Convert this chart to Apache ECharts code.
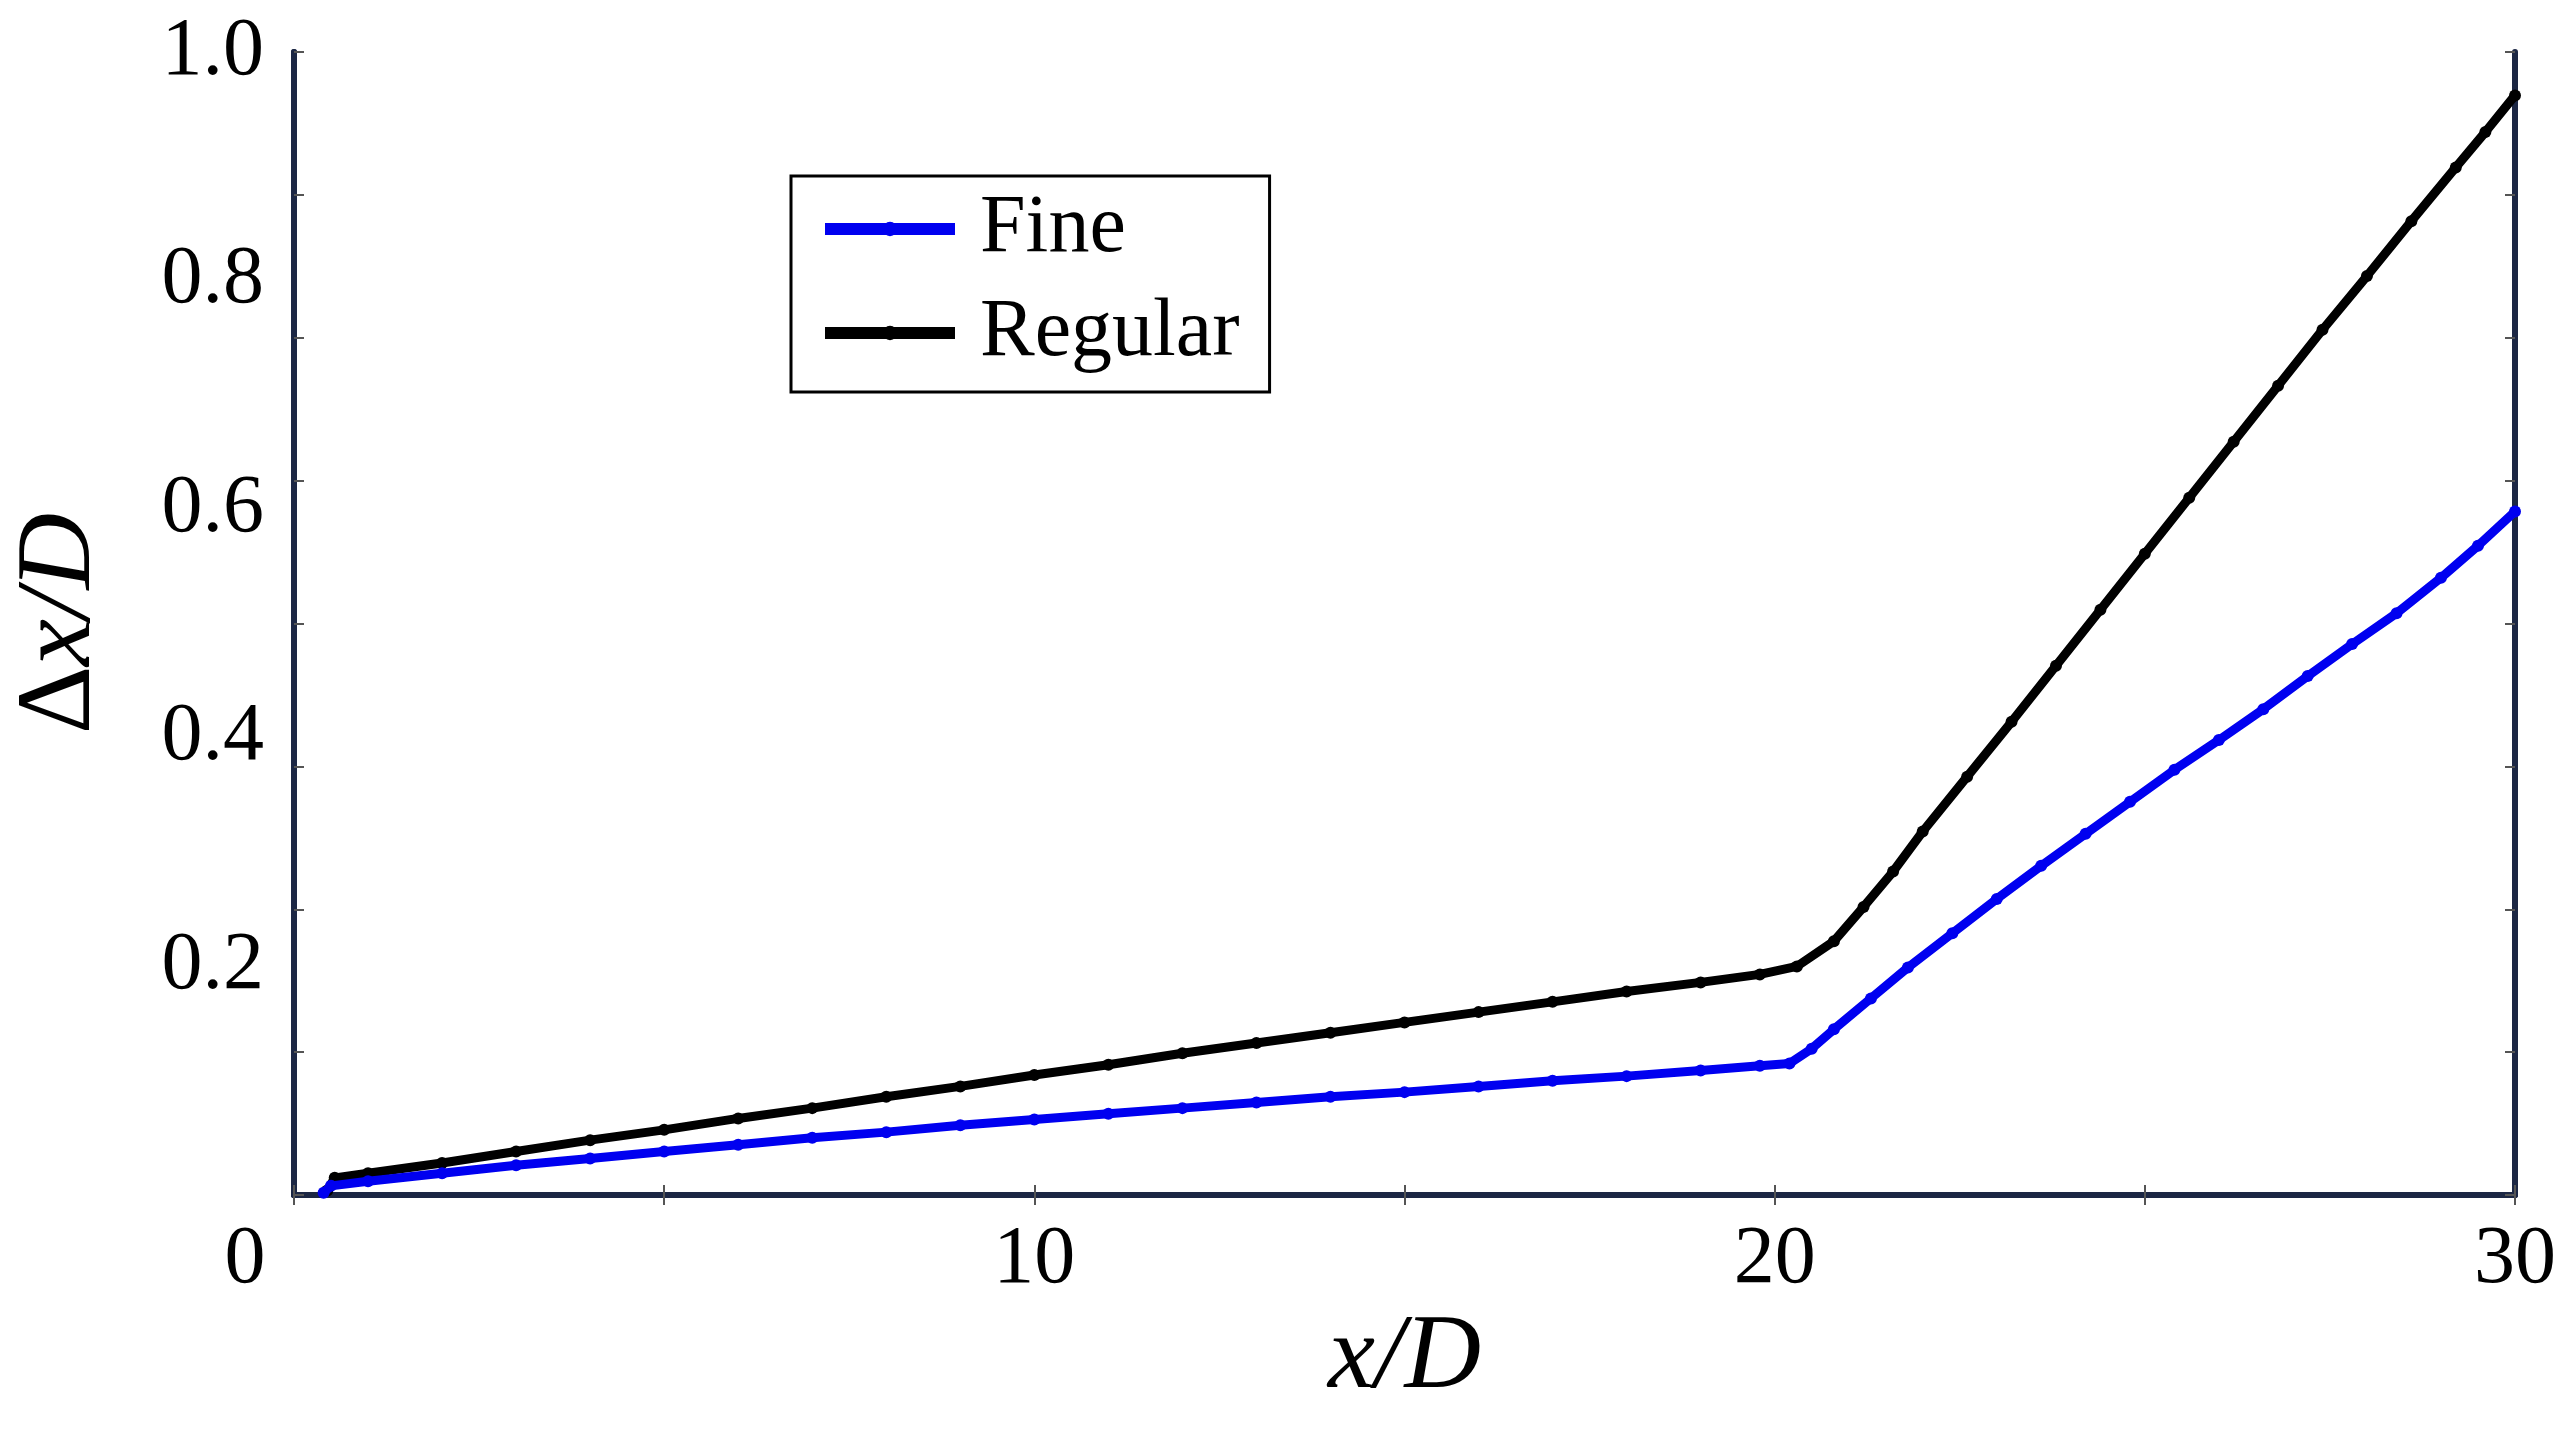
<!DOCTYPE html>
<html>
<head>
<meta charset="utf-8">
<script src="https://cdn.jsdelivr.net/npm/echarts@6/dist/echarts.min.js"></script>
<style>
  html, body { margin: 0; padding: 0; background: #fff; }
  #chart { width: 2559px; height: 1440px; }
</style>
</head>
<body>
<div id="chart"></div>
<script>
// values
var fineX = [0.4, 0.5, 1, 2, 3, 4, 5, 6, 7, 8, 9, 10, 11, 12, 13, 14, 15, 16, 17, 18, 19, 19.8,
  20.2, 20.5, 20.8, 21.3, 21.8, 22.4, 23.0, 23.6, 24.2, 24.8, 25.4, 26.0, 26.6, 27.2, 27.8, 28.4, 29.0, 29.5, 30.0];
var fineY = [0.002, 0.008, 0.012, 0.019, 0.026, 0.032, 0.038, 0.044, 0.050, 0.055, 0.061, 0.066, 0.071, 0.076, 0.081, 0.086, 0.090, 0.095, 0.100, 0.104, 0.109, 0.113,
  0.115, 0.128, 0.145, 0.172, 0.199, 0.229, 0.259, 0.288, 0.316, 0.344, 0.372, 0.398, 0.425, 0.454, 0.482, 0.509, 0.540, 0.568, 0.598];

var regularX = [0.45, 0.55, 1, 2, 3, 4, 5, 6, 7, 8, 9, 10, 11, 12, 13, 14, 15, 16, 17, 18, 19, 19.8,
  20.3, 20.8, 21.2, 21.6, 22.0, 22.6, 23.2, 23.8, 24.4, 25.0, 25.6, 26.2, 26.8, 27.4, 28.0, 28.6, 29.2, 29.6, 30.0];
var regularY = [0.004, 0.015, 0.019, 0.028, 0.038, 0.048, 0.057, 0.067, 0.076, 0.086, 0.095, 0.105, 0.114, 0.124, 0.133, 0.142, 0.151, 0.160, 0.169, 0.178, 0.186, 0.193,
  0.200, 0.222, 0.252, 0.283, 0.318, 0.366, 0.414, 0.463, 0.512, 0.561, 0.610, 0.659, 0.708, 0.757, 0.804, 0.852, 0.899, 0.930, 0.962];

var xTickLabels = [0, 10, 20, 30];
var yTickLabels = [0.2, 0.4, 0.6, 0.8, 1.0];

function pairs(xs, ys) {
  return xs.map(function (x, i) { return [x, ys[i]]; });
}

var serif = '"Liberation Serif", "DejaVu Serif", serif';
var frame = { show: true, lineStyle: { color: '#1c2744', width: 6 } };
var tick = { show: true, inside: true, length: 10, lineStyle: { color: '#555', width: 2 } };

var chart = echarts.init(document.getElementById('chart'));

var option = {
  animation: false,
  backgroundColor: '#fff',
  grid: { left: 292, right: 44, top: 52, bottom: 245 },
  legend: {
    data: ['Fine', 'Regular'],
    orient: 'vertical',
    left: 791,
    top: 176,
    width: 480,
    backgroundColor: '#fff',
    borderColor: '#000',
    borderWidth: 3,
    padding: [12, 30, 18, 28],
    itemGap: 22,
    itemWidth: 130,
    itemHeight: 18,
    lineStyle: { width: 12 },
    textStyle: { fontFamily: serif, fontSize: 82, color: '#000', padding: [0, 0, 0, 20] }
  },
  xAxis: [{
    type: 'value',
    position: 'bottom',
    min: 0, max: 30, interval: 5,
    name: '{i|x/D}',
    nameLocation: 'middle',
    nameGap: 110,
    nameTextStyle: {
      rich: { i: { fontFamily: serif, fontStyle: 'italic', fontSize: 106, color: '#000' } }
    },
    axisLine: frame,
    axisTick: tick,
    splitLine: { show: false },
    axisLabel: {
      margin: 24,
      fontFamily: serif, fontSize: 82, color: '#000',
      formatter: function (v) {
        if (v === 0) return '{z|0}';
        return xTickLabels.indexOf(v) >= 0 ? String(v) : '';
      },
      rich: { z: { fontFamily: serif, fontSize: 82, color: '#000', padding: [0, 98, 0, 0] } }
    }
  }, {
    type: 'value',
    position: 'top',
    min: 0, max: 30, interval: 5,
    axisLine: frame,
    axisTick: tick,
    axisLabel: { show: false },
    splitLine: { show: false }
  }],
  yAxis: [{
    type: 'value',
    position: 'left',
    min: 0, max: 1, interval: 0.2,
    name: '{n|Δ}{i|x/D}',
    nameLocation: 'middle',
    nameRotate: 90,
    nameGap: 180,
    nameTextStyle: {
      rich: {
        n: { fontFamily: serif, fontSize: 106, color: '#000' },
        i: { fontFamily: serif, fontStyle: 'italic', fontSize: 106, color: '#000' }
      }
    },
    axisLine: frame,
    axisTick: { show: false },
    splitLine: { show: false },
    axisLabel: {
      margin: 30,
      fontFamily: serif, fontSize: 82, color: '#000',
      padding: [0, 0, 16, 0],
      formatter: function (v) {
        var r = Math.round(v * 10) / 10;
        return yTickLabels.indexOf(r) >= 0 ? r.toFixed(1) : '';
      }
    }
  }, {
    type: 'value',
    position: 'left',
    min: 0, max: 1, interval: 0.125,
    axisLine: frame,
    axisTick: tick,
    axisLabel: { show: false },
    splitLine: { show: false }
  }, {
    type: 'value',
    position: 'right',
    min: 0, max: 1, interval: 0.125,
    axisLine: frame,
    axisTick: tick,
    axisLabel: { show: false },
    splitLine: { show: false }
  }],
  series: [{
    name: 'Fine',
    type: 'line',
    z: 3,
    data: pairs(fineX, fineY),
    symbol: 'circle',
    symbolSize: 12,
    showAllSymbol: true,
    itemStyle: { color: '#0000f0' },
    lineStyle: { color: '#0000f0', width: 9 }
  }, {
    name: 'Regular',
    type: 'line',
    z: 2,
    data: pairs(regularX, regularY),
    symbol: 'circle',
    symbolSize: 12,
    showAllSymbol: true,
    itemStyle: { color: '#000' },
    lineStyle: { color: '#000', width: 9 }
  }]
};

chart.setOption(option);
</script>
</body>
</html>
